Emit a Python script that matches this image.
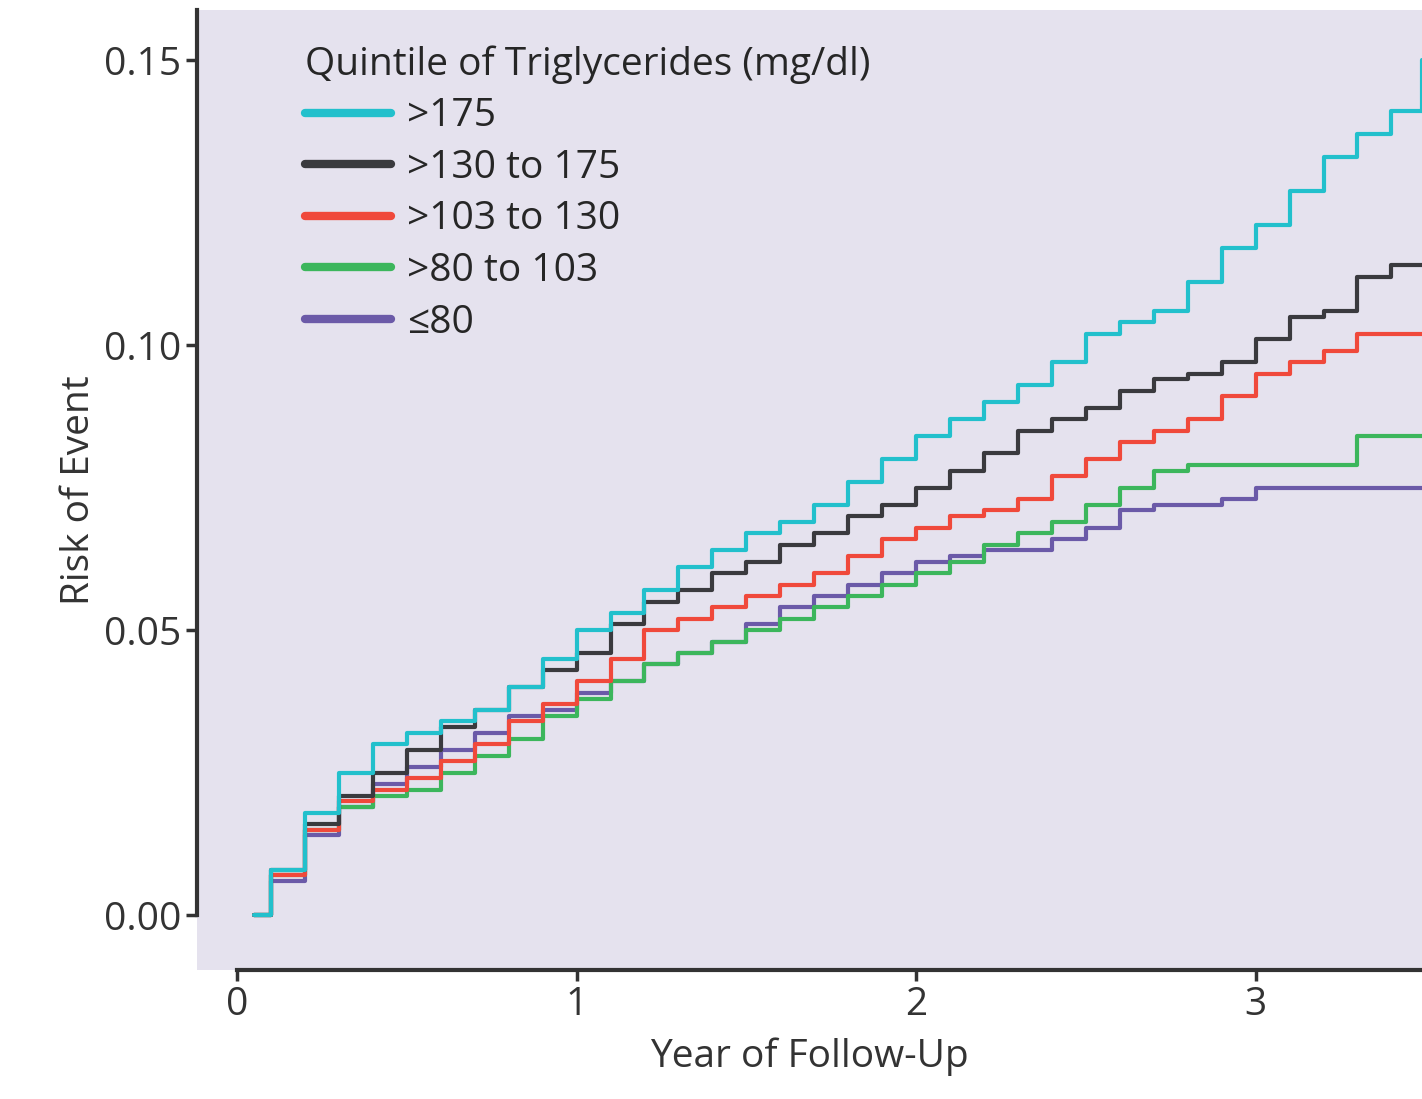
import numpy as np, pandas as pd, matplotlib
matplotlib.use("Agg")
import matplotlib.pyplot as plt, seaborn as sns

years = [0.05,0.1,0.2,0.3,0.4,0.5,0.6,0.7,0.8,0.9,1.0,1.1,1.2,1.3,1.4,1.5,1.6,1.7,1.8,1.9,2.0,2.1,2.2,2.3,2.4,2.5,2.6,2.7,2.8,2.9,3.0,3.1,3.2,3.3,3.4,3.49]
tg175 = [0,.008,.018,.025,.030,.032,.034,.036,.040,.045,.050,.053,.057,.061,.064,.067,.069,.072,.076,.080,.084,.087,.090,.093,.097,.102,.104,.106,.111,.117,.121,.127,.133,.137,.141,.150]
tg130 = [0,.008,.016,.021,.025,.029,.033,.036,.040,.043,.046,.051,.055,.057,.060,.062,.065,.067,.070,.072,.075,.078,.081,.085,.087,.089,.092,.094,.095,.097,.101,.105,.106,.112,.114,.114]
tg103 = [0,.007,.015,.020,.022,.024,.027,.030,.034,.037,.041,.045,.050,.052,.054,.056,.058,.060,.063,.066,.068,.070,.071,.073,.077,.080,.083,.085,.087,.091,.095,.097,.099,.102,.102,.102]
tg80 = [0,.007,.015,.019,.021,.022,.025,.028,.031,.035,.038,.041,.044,.046,.048,.050,.052,.054,.056,.058,.060,.062,.065,.067,.069,.072,.075,.078,.079,.079,.079,.079,.079,.084,.084,.084]
tgle80 = [0,.006,.014,.019,.023,.026,.029,.032,.035,.036,.039,.041,.044,.046,.048,.051,.054,.056,.058,.060,.062,.063,.064,.064,.066,.068,.071,.072,.072,.073,.075,.075,.075,.075,.075,.075]
labels = [">175", ">130 to 175", ">103 to 130", ">80 to 103", "≤80"]
colors = ["#22c0cc", "#3a3a3e", "#f0493b", "#3cb65c", "#6b5aa8"]

df = pd.concat([pd.DataFrame({"year": years, "risk": v, "group": l})
                for v, l in zip([tg175, tg130, tg103, tg80, tgle80], labels)])

sns.set_theme(style="ticks")
plt.rcParams['font.family'] = ['Open Sans', 'DejaVu Sans']
fig = plt.figure(figsize=(14.22, 10.99), dpi=100)
ax = fig.add_axes([0.1385, 0.1174, 0.8615, 0.8736])
ax.set_facecolor("#e5e2ee")
for l, c in zip(labels[::-1], colors[::-1]):
    sub = df[df.group == l]
    ax.step(sub.year, sub.risk, where="post", color=c, lw=3, label=l)
ax.set_xlim(-0.118, 3.49)
ax.set_ylim(-0.0096, 0.1588)
ax.set_xticks([0, 1, 2, 3]); ax.set_yticks([0, .05, .10, .15])
ax.set_yticklabels(["0.00", "0.05", "0.10", "0.15"])
ax.tick_params(labelsize=28, width=2.5, length=8, colors="#333333")
for s in ["top", "right"]:
    ax.spines[s].set_visible(False)
ax.spines["left"].set_bounds(0, 0.1588)
ax.spines["bottom"].set_bounds(0, 3.49)
for s in ["left", "bottom"]:
    ax.spines[s].set_linewidth(3); ax.spines[s].set_color("#333333")
ax.set_xlabel("Year of Follow-Up", fontsize=28, color="#333333", labelpad=10)
ax.set_ylabel("Risk of Event", fontsize=28, color="#333333", labelpad=4)
h, lab = ax.get_legend_handles_labels()
leg = ax.legend(h[::-1], lab[::-1], title="Quintile of Triglycerides (mg/dl)", loc="upper left",
                frameon=False, fontsize=28, title_fontsize=28, handlelength=2.2,
                labelspacing=0.35, bbox_to_anchor=(0.06, 1.0), handletextpad=0.4)
for lh in leg.get_lines(): lh.set_linewidth(6)
leg._legend_box.align = "left"
fig.savefig("out.png", dpi=100)
